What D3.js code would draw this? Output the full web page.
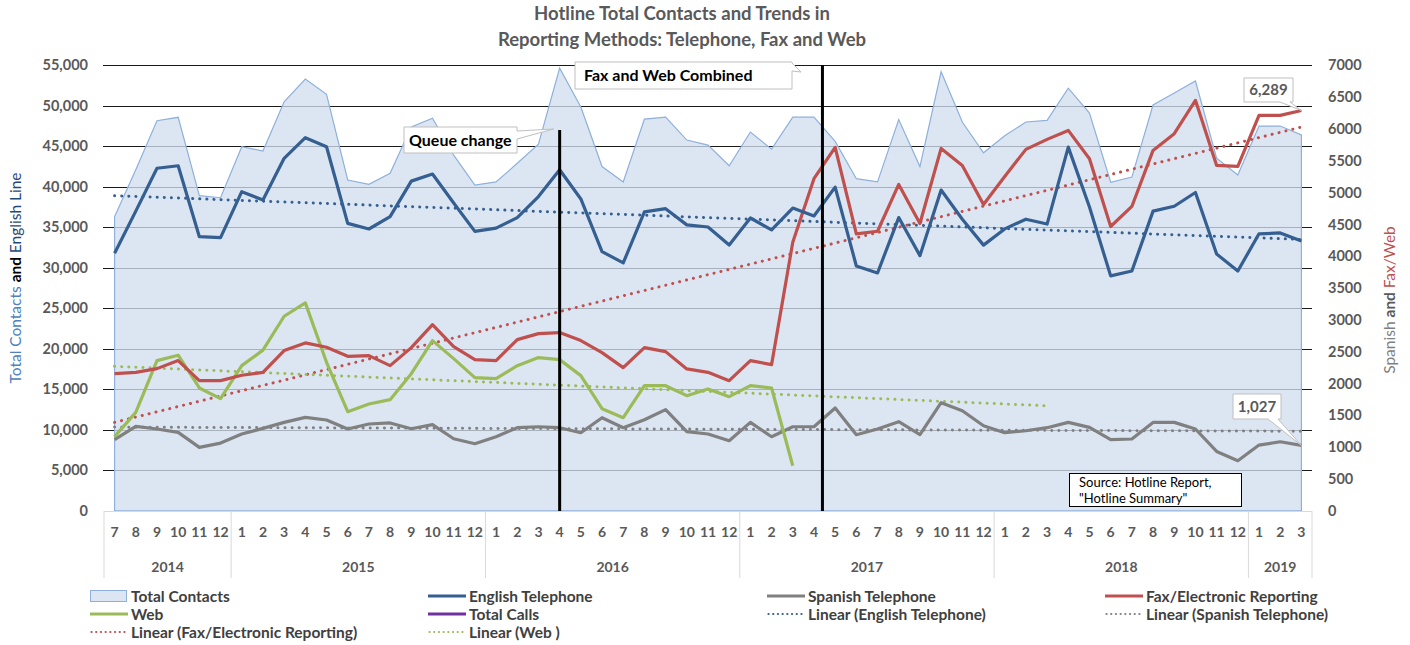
<html>
<head>
<meta charset="utf-8">
<title>Hotline Total Contacts</title>
<script src="https://cdn.jsdelivr.net/npm/d3@7/dist/d3.min.js"></script>
<style>
body { margin:0; background:#fff; }
svg text { font-family: Lato, "Open Sans", sans-serif; }
.tick text { font-weight:bold; fill:#595959; }
</style>
</head>
<body>
<script>
// months Jul 2014 .. Mar 2019
var years = [2014, 2015, 2016, 2017, 2018, 2019];
var yearCounts = [6, 12, 12, 12, 12, 3];
var yearStart = [7, 1, 1, 1, 1, 1];

var totalContacts = [36300, 42100, 48160, 48580, 38900, 38650, 44950, 44420, 50500, 53300, 51420, 40840, 40300, 41670,
  47400, 48460, 43900, 40200, 40600, 42900, 45260, 54650, 49850, 42500, 40600, 48360, 48600, 45770, 45150, 42600,
  46760, 44650, 48600, 48600, 45600, 41000, 40600, 48300, 42500, 54200, 48000, 44200, 46300, 48000, 48200, 52170,
  49100, 40560, 41200, 50100, 51580, 53060, 43540, 41450, 47500, 47500, 46400];
var english = [31790, 37000, 42290, 42600, 33840, 33720, 39400, 38370, 43520, 46060, 44950, 35490, 34790, 36310,
  40700, 41580, 38000, 34500, 34900, 36200, 38800, 42100, 38500, 32000, 30600, 36900, 37300, 35300, 35040, 32820,
  36150, 34670, 37380, 36400, 39960, 30220, 29360, 36200, 31500, 39600, 36000, 32800, 34800, 36000, 35400, 44900,
  37500, 29000, 29600, 37000, 37600, 39300, 31700, 29600, 34200, 34300, 33300];
var spanish = [1120, 1326, 1285, 1232, 996, 1064, 1206, 1295, 1389, 1468, 1427, 1285, 1364, 1380,
  1290, 1353, 1132, 1054, 1164, 1306, 1321, 1306, 1227, 1463, 1306, 1431, 1589, 1243, 1207, 1101,
  1389, 1164, 1321, 1321, 1615, 1196, 1285, 1400, 1196, 1699, 1573, 1337, 1227, 1258, 1306, 1389,
  1310, 1117, 1128, 1389, 1389, 1285, 933, 787, 1033, 1085, 1027];
var fax = [2155, 2176, 2234, 2360, 2045, 2045, 2130, 2176, 2517, 2638, 2569, 2427, 2438, 2281,
  2564, 2926, 2580, 2375, 2360, 2690, 2784, 2800, 2674, 2485, 2249, 2564, 2501, 2229, 2176, 2045,
  2360, 2297, 4220, 5218, 5710, 4352, 4393, 5128, 4515, 5694, 5427, 4813, 5254, 5679, 5836, 5977,
  5532, 4467, 4782, 5663, 5926, 6449, 5427, 5411, 6213, 6213, 6289];
var web = [1165, 1546, 2360, 2445, 1930, 1762, 2281, 2525, 3057, 3267, 2333, 1557, 1678, 1746,
  2155, 2674, 2391, 2092, 2076, 2281, 2407, 2375, 2124, 1604, 1463, 1966, 1966, 1809, 1914, 1793,
  1966, 1930, 708];

// trendline endpoints [startIndex, startValue, endIndex, endValue]
var trendEnglish = [0, 38900, 56, 33500];
var trendSpanish = [0, 1315, 56, 1250];
var trendFax = [0, 1390, 56, 6030];
var trendWeb = [0, 2270, 44, 1650];

var legendNames = ["Total Contacts", "English Telephone", "Spanish Telephone", "Fax/Electronic Reporting",
  "Web", "Total Calls", "Linear (English Telephone)", "Linear (Spanish Telephone)",
  "Linear (Fax/Electronic Reporting)", "Linear (Web )"];
var legendColors = ["#dce6f2", "#355f91", "#808080", "#c0504d", "#9bbb59", "#7030a0", "#355f91", "#808080", "#c0504d", "#9bbb59"];
var legendKinds = ["area", "line", "line", "line", "line", "line", "dot", "dot", "dot", "dot"];

var leftTicks = d3.range(0, 55001, 5000);
var rightTicks = d3.range(0, 7001, 500);

var categories = [], monthLabels = [];
years.forEach(function(y, k) {
  for (var m = 0; m < yearCounts[k]; m++) {
    categories.push(y + "-" + (yearStart[k] + m));
    monthLabels.push(yearStart[k] + m);
  }
});

var width = 1410, height = 645;
var svg = d3.select("body").append("svg").attr("width", width).attr("height", height);

var x = d3.scaleBand().domain(categories).range([104, 1312]).padding(0);
var bw = x.bandwidth();
function cx(i) { return x(categories[i]) + bw / 2; }
var xi = d3.scaleLinear().domain([0, categories.length - 1]).range([cx(0), cx(categories.length - 1)]);

var yL = d3.scaleLinear().domain([0, 55000]).range([510.8, 65.3]);
var yR = d3.scaleLinear().domain([0, 7000]).range([510.8, 65.3]);

// title
svg.append("text").attr("x", 682).attr("y", 20).attr("text-anchor", "middle")
  .style("font-size", "18.5px").style("font-weight", "bold").style("fill", "#595959")
  .text("Hotline Total Contacts and Trends in");
svg.append("text").attr("x", 682).attr("y", 46).attr("text-anchor", "middle")
  .style("font-size", "18.5px").style("font-weight", "bold").style("fill", "#595959")
  .text("Reporting Methods: Telephone, Fax and Web");

// gridlines
svg.append("g").selectAll("line").data(leftTicks.slice(1)).enter().append("line")
  .attr("x1", 103).attr("x2", 1312)
  .attr("y1", function(d) { return Math.round(yL(d)) + 0.5; })
  .attr("y2", function(d) { return Math.round(yL(d)) + 0.5; })
  .attr("stroke", "#1a1a1a").attr("stroke-width", 1.2);

// total contacts area
var area = d3.area().x(function(d, i) { return cx(i); }).y0(yL(0)).y1(function(d) { return yL(d); });
svg.append("path").datum(totalContacts).attr("d", area)
  .attr("fill", "rgb(209,222,239)").attr("fill-opacity", 0.77)
  .attr("stroke", "#8eb0da").attr("stroke-width", 1.2);

// axes
var axL = svg.append("g").attr("transform", "translate(104,0)")
  .call(d3.axisLeft(yL).tickValues(leftTicks).tickFormat(d3.format(",")).tickSize(0).tickPadding(16));
axL.select(".domain").remove();
axL.selectAll("text").style("font-size", "14.5px");
var axR = svg.append("g").attr("transform", "translate(1312,0)")
  .call(d3.axisRight(yR).tickValues(rightTicks).tickFormat(d3.format("d")).tickSize(0).tickPadding(16));
axR.select(".domain").remove();
axR.selectAll("text").style("font-size", "14.5px");

// category axis box
var cat = svg.append("g");
cat.append("line").attr("x1", 104).attr("x2", 1312).attr("y1", 511.5).attr("y2", 511.5).attr("stroke", "#d9d9d9");
var bounds = [0];
yearCounts.forEach(function(c, k) { bounds.push(bounds[k] + c); });
cat.selectAll(".sep").data(bounds).enter().append("line")
  .attr("x1", function(d) { return d < categories.length ? x(categories[d]) : 1312; })
  .attr("x2", function(d) { return d < categories.length ? x(categories[d]) : 1312; })
  .attr("y1", 511).attr("y2", 578).attr("stroke", "#d9d9d9");
cat.selectAll(".m").data(monthLabels).enter().append("text")
  .attr("x", function(d, i) { return cx(i); }).attr("y", 537).attr("text-anchor", "middle")
  .style("font-size", "14px").style("font-weight", "bold").style("fill", "#595959")
  .text(function(d) { return d; });
cat.selectAll(".y").data(years).enter().append("text")
  .attr("x", function(d, k) { return (xi(bounds[k]) + xi(bounds[k + 1] - 1)) / 2; })
  .attr("y", 572).attr("text-anchor", "middle")
  .style("font-size", "14px").style("font-weight", "bold").style("fill", "#595959")
  .text(function(d) { return d; });

// axis titles
var lt = svg.append("text").attr("transform", "translate(21,278) rotate(-90)").attr("text-anchor", "middle")
  .style("font-size", "15.5px");
lt.append("tspan").style("fill", "#4f81bd").text("Total Contacts ");
lt.append("tspan").style("fill", "#000").style("font-weight", "bold").text("and ");
lt.append("tspan").style("fill", "#1f497d").text("English Line");
var rt = svg.append("text").attr("transform", "translate(1395,300) rotate(-90)").attr("text-anchor", "middle")
  .style("font-size", "15.5px");
rt.append("tspan").style("fill", "#7f7f7f").text("Spanish ");
rt.append("tspan").style("fill", "#595959").style("font-weight", "bold").text("and ");
rt.append("tspan").style("fill", "#c0504d").text("Fax/Web");

// trendlines
function trend(t, scale, color) {
  svg.append("line")
    .attr("x1", xi(t[0])).attr("y1", scale(t[1]))
    .attr("x2", xi(t[2])).attr("y2", scale(t[3]))
    .attr("stroke", color).attr("stroke-width", 3)
    .attr("stroke-linecap", "round").attr("stroke-dasharray", "0.1,7");
}
trend(trendEnglish, yL, "#355f91");
trend(trendSpanish, yR, "#808080");
trend(trendFax, yR, "#c0504d");
trend(trendWeb, yR, "#9bbb59");

// series lines
function series(data, scale, color) {
  var line = d3.line().x(function(d, i) { return cx(i); }).y(function(d) { return scale(d); });
  svg.append("path").datum(data).attr("d", line).attr("fill", "none")
    .attr("stroke", color).attr("stroke-width", 3.2).attr("stroke-linejoin", "round");
}
series(spanish, yR, "#808080");
series(web, yR, "#9bbb59");
series(fax, yR, "#c0504d");
series(english, yL, "#355f91");

// event markers
svg.append("line").attr("x1", cx(21)).attr("x2", cx(21)).attr("y1", 130).attr("y2", 511)
  .attr("stroke", "#000").attr("stroke-width", 3);
svg.append("line").attr("x1", xi(33.4)).attr("x2", xi(33.4)).attr("y1", 65).attr("y2", 511)
  .attr("stroke", "#000").attr("stroke-width", 3);

// callouts
function callout(bx, by, w, h, tail, label, size, color) {
  var p = d3.path();
  p.moveTo(bx, by);
  p.lineTo(bx + w, by);
  if (tail.side === "right") {
    p.lineTo(bx + w, tail.a); p.lineTo(tail.x, tail.y); p.lineTo(bx + w, tail.b);
    p.lineTo(bx + w, by + h); p.lineTo(bx, by + h);
  } else {
    p.lineTo(bx + w, by + h);
    p.lineTo(tail.b, by + h); p.lineTo(tail.x, tail.y); p.lineTo(tail.a, by + h);
    p.lineTo(bx, by + h);
  }
  p.closePath();
  svg.append("path").attr("d", p.toString()).attr("fill", "#fff").attr("stroke", "#bfbfbf").attr("stroke-width", 1);
  var t = svg.append("text").attr("y", by + h / 2 + size * 0.36)
    .style("font-size", size + "px").style("font-weight", "bold").style("fill", color).text(label);
  if (tail.left) t.attr("x", bx + tail.left);
  else t.attr("x", bx + w / 2).attr("text-anchor", "middle");
}
callout(404, 127, 113, 26, { side: "right", a: 131, b: 139, x: cx(21) - 6, y: 129, left: 5 }, "Queue change", 16, "#000");
callout(575, 62, 217, 27, { side: "right", a: 63, b: 71, x: 801, y: 72, left: 9 }, "Fax and Web Combined", 16, "#000");
callout(1244, 78, 49, 24, { side: "bottom", a: 1280, b: 1290, x: cx(56), y: yR(fax[56]) }, d3.format(",")(fax[56]), 15, "#595959");
callout(1233, 394, 48, 25, { side: "bottom", a: 1268, b: 1278, x: cx(56), y: yR(spanish[56]) }, d3.format(",")(spanish[56]), 15, "#595959");

// source box
svg.append("rect").attr("x", 1069.5).attr("y", 473.5).attr("width", 172).attr("height", 33)
  .attr("fill", "#fff").attr("stroke", "#000");
svg.append("text").attr("x", 1079).attr("y", 487).style("font-size", "13px").style("fill", "#000")
  .text("Source:  Hotline Report,");
svg.append("text").attr("x", 1079).attr("y", 503).style("font-size", "13px").style("fill", "#000")
  .text("\"Hotline Summary\"");

// legend
var colX = [90, 428, 767, 1105];
var rowY = [596, 614, 632];
var leg = svg.append("g").selectAll("g").data(legendNames).enter().append("g")
  .attr("transform", function(d, i) { return "translate(" + colX[i % 4] + "," + rowY[Math.floor(i / 4)] + ")"; });
leg.each(function(d, i) {
  var g = d3.select(this);
  if (legendKinds[i] === "area") {
    g.append("rect").attr("x", 0.5).attr("y", -5.5).attr("width", 36).attr("height", 11)
      .attr("fill", legendColors[i]).attr("stroke", "#8eb0da");
  } else if (legendKinds[i] === "line") {
    g.append("line").attr("x1", 0).attr("x2", 38).attr("y1", 0).attr("y2", 0)
      .attr("stroke", legendColors[i]).attr("stroke-width", 3);
  } else {
    g.append("line").attr("x1", 1.5).attr("x2", 37).attr("y1", 0).attr("y2", 0)
      .attr("stroke", legendColors[i]).attr("stroke-width", 2.2)
      .attr("stroke-linecap", "round").attr("stroke-dasharray", "0.1,4.6");
  }
  g.append("text").attr("x", 41).attr("y", 5.5).style("font-size", "15.5px").style("font-weight", "bold")
    .style("fill", "#404040").text(d);
});
</script>
</body>
</html>
